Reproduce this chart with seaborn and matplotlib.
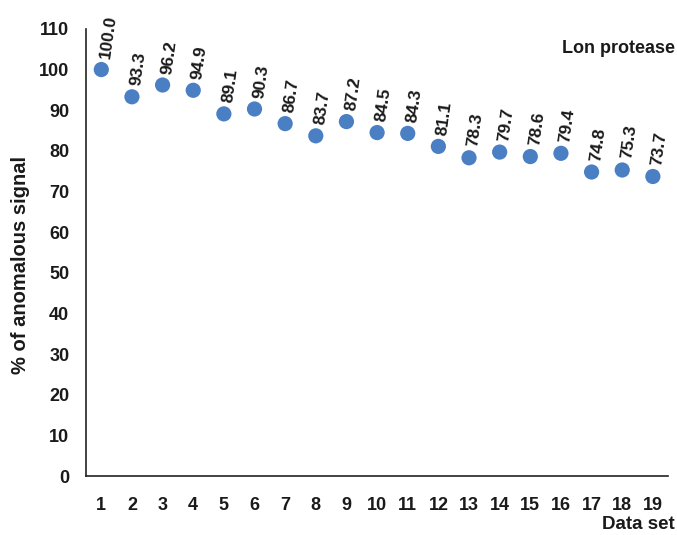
import numpy as np
import pandas as pd
import matplotlib
matplotlib.use("Agg")
import matplotlib.pyplot as plt
import seaborn as sns

# values
data_set = list(range(1, 20))
anomalous_pct = [100.0, 93.3, 96.2, 94.9, 89.1, 90.3, 86.7, 83.7, 87.2, 84.5,
                 84.3, 81.1, 78.3, 79.7, 78.6, 79.4, 74.8, 75.3, 73.7]
y_ticks = list(range(0, 111, 10))

df = pd.DataFrame({"set": data_set, "pct": anomalous_pct})

sns.set_theme(style="white")
narrow = ["Liberation Sans Narrow", "Liberation Sans", "DejaVu Sans"]
wide = ["Liberation Sans", "DejaVu Sans"]
plt.rcParams["font.family"] = narrow

fig = plt.figure(figsize=(6.77, 5.35), dpi=100)
ax = fig.add_axes([0.127, 0.110, 0.860, 0.836])

sns.scatterplot(data=df, x="set", y="pct", ax=ax, s=120, color="#4a7fc4",
                edgecolor="none", zorder=3)

for xv, yv in zip(df["set"], df["pct"]):
    ax.annotate(f"{yv:.1f}", (xv, yv), xytext=(3, 8), textcoords="offset points",
                rotation=82, ha="left", va="center", rotation_mode="anchor",
                fontsize=12.5, fontweight="bold", color="#1a1a1a")

ax.set_xlim(0.5, 19.5)
ax.set_ylim(0, 110)
ax.set_yticks(y_ticks)
ax.set_xticks(data_set)
ax.set_xticks(np.arange(0.5, 20, 1), minor=True)
ax.tick_params(axis="x", which="major", length=0, pad=15, labelsize=13)
ax.tick_params(axis="x", which="minor", length=5, width=1, direction="out", color="#222222")
ax.tick_params(axis="y", length=5, width=1, direction="out", labelsize=13, color="#222222")
ax.tick_params(axis="y", pad=7)
for lab in ax.get_xticklabels() + ax.get_yticklabels():
    lab.set_fontweight("bold")
    lab.set_color("#1a1a1a")

for side in ["top", "right"]:
    ax.spines[side].set_visible(False)
for side in ["left", "bottom"]:
    ax.spines[side].set_color("#222222")
    ax.spines[side].set_linewidth(1.2)

ax.set_xlabel("")
ax.set_ylabel("")
fig.text(0.030, 0.505, "% of anomalous signal", rotation=90, ha="center", va="center",
         fontsize=14.5, fontweight="bold", family=wide, color="#1a1a1a")
fig.text(0.997, 0.004, "Data set", ha="right", va="bottom",
         fontsize=13.5, fontweight="bold", family=wide, color="#1a1a1a")
fig.text(0.997, 0.91, "Lon protease", ha="right", va="center",
         fontsize=13, fontweight="bold", family=wide, color="#1a1a1a")

fig.savefig("out.png", dpi=100, facecolor="white")
